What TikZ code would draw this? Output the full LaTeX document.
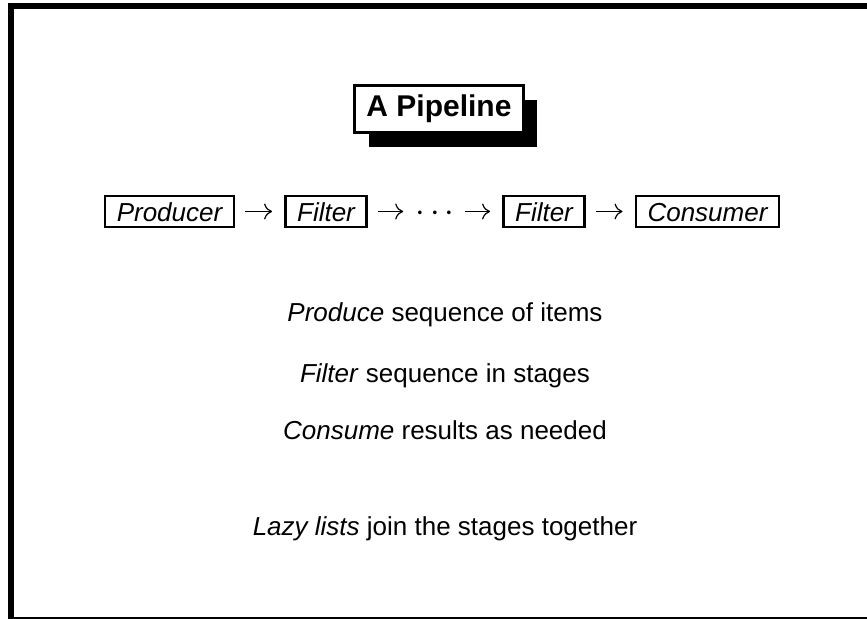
\documentclass[tikz,border=0pt]{standalone}
\usepackage{fontspec}
\setmainfont{Liberation Sans}
\usetikzlibrary{shadows,arrows.meta}

\tikzset{
  frame/.style={line width=3pt},
  titlebox/.style={draw, line width=1.5pt, fill=white, inner xsep=5.75pt, minimum height=23.5pt,
    font=\fontsize{15}{18}\selectfont\bfseries,
    general shadow={fill=black, shadow xshift=7pt, shadow yshift=-7.5pt}},
  stage/.style={draw, line width=1.2pt, inner xsep=5.9pt, inner ysep=1.9pt,
    text height=11pt, text depth=0.5pt, font=\fontsize{13}{16}\selectfont\itshape},
  flow/.style={-{To[length=4pt,width=8pt]}, line width=0.6pt, shorten <=5pt, shorten >=6pt},
  remark/.style={anchor=base, font=\fontsize{13}{16}\selectfont}
}

\begin{document}
\begin{tikzpicture}[x=0.5pt, y=0.5pt]
\useasboundingbox (0,0) rectangle (867,619);

% slide frame
\draw[frame] (880,-1) -- (11,-1) -- (11,613) -- (880,613);

% title
\node[titlebox] (title) at (439,510) {A Pipeline};

% stages
\node[stage] (producer) at (169.5,407.5) {Producer};
\node[stage] (filterA) at (326,407.5) {Filter};
\node[inner sep=0pt, font=\fontsize{18}{20}\selectfont] (dots) at (435,405) {${\cdot}\hspace{2.5pt}{\cdot}\hspace{2.5pt}{\cdot}$};
\node[stage] (filterB) at (544,407.5) {Filter};
\node[stage] (consumer) at (707.5,407.5) {Consumer};

\draw[flow] (producer) -- (filterA);
\draw[flow] (filterA) -- (filterA -| dots.west);
\draw[flow] (dots.east |- filterB) -- (filterB);
\draw[flow] (filterB) -- (consumer);

% remarks
\node[remark] (produce) at (445,297) {\textit{Produce} sequence of items};
\node[remark] (filter) at (445,236) {\textit{Filter} sequence in stages};
\node[remark] (consume) at (445,179) {\textit{Consume} results as needed};
\node[remark] (lazy) at (445,83) {\textit{Lazy lists} join the stages together};

\end{tikzpicture}
\end{document}
